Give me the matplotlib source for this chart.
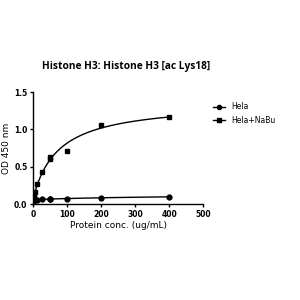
import numpy as np
import matplotlib
matplotlib.use("Agg")
import matplotlib.pyplot as plt

conc = [0, 1.56, 3.125, 6.25, 12.5, 25, 50, 50, 100, 200, 400]
hela = [0.06, 0.06, 0.06, 0.06, 0.06, 0.065, 0.065, 0.065, 0.07, 0.08, 0.10]
nabu = [0.07, 0.09, 0.11, 0.16, 0.27, 0.43, 0.60, 0.63, 0.71, 1.06, 1.17]

x = np.array(conc); yh = np.array(hela); yn = np.array(nabu)

def fit(x, y):
    best = None
    for K in np.linspace(1, 400, 800):
        A = np.vstack([x / (K + x), np.ones_like(x)]).T
        coef, res, *_ = np.linalg.lstsq(A, y, rcond=None)
        r = np.sum((A @ coef - y) ** 2)
        if best is None or r < best[0]:
            best = (r, K, coef)
    return best[1], best[2]

fig = plt.figure(figsize=(3, 3), dpi=100)
ax = fig.add_axes([0.11, 0.32, 0.567, 0.373])
xx = np.linspace(0, 400, 400)
for y, m, lab in [(yh, 'o', 'Hela'), (yn, 's', 'Hela+NaBu')]:
    K, c = fit(x, y)
    ax.plot(xx, c[0] * xx / (K + xx) + c[1], color='black', lw=1)
    ax.plot(x, y, m, color='black', ms=3.5, ls='none')
    ax.plot([], [], marker=m, color='black', ms=3, lw=1, label=lab)

ax.set_xlim(0, 500)
ax.set_ylim(0, 1.5)
ax.set_xticks([0, 100, 200, 300, 400, 500])
ax.set_yticks([0, 0.5, 1.0, 1.5])
ax.set_yticklabels(['0.0', '0.5', '1.0', '1.5'])
for s in ['top', 'right']:
    ax.spines[s].set_visible(False)
for s in ['left', 'bottom']:
    ax.spines[s].set_linewidth(1)
ax.tick_params(labelsize=5.5, width=1, length=2.5, pad=1.5)
for t in ax.get_xticklabels() + ax.get_yticklabels():
    t.set_fontweight('bold')
ax.set_xlabel('Protein conc. (ug/mL)', fontsize=6.5, labelpad=2)
ax.set_ylabel('OD 450 nm', fontsize=6.5, labelpad=2)
ax.legend(loc='upper left', bbox_to_anchor=(1.02, 0.97), frameon=False,
          fontsize=5.5, handlelength=1.5, handletextpad=0.8, labelspacing=0.6)
fig.text(0.14, 0.777, 'Histone H3: Histone H3 [ac Lys18]', ha='left', va='center',
         fontsize=7.3, fontweight='bold', family='Open Sans')
fig.savefig('out.png', dpi=100)
